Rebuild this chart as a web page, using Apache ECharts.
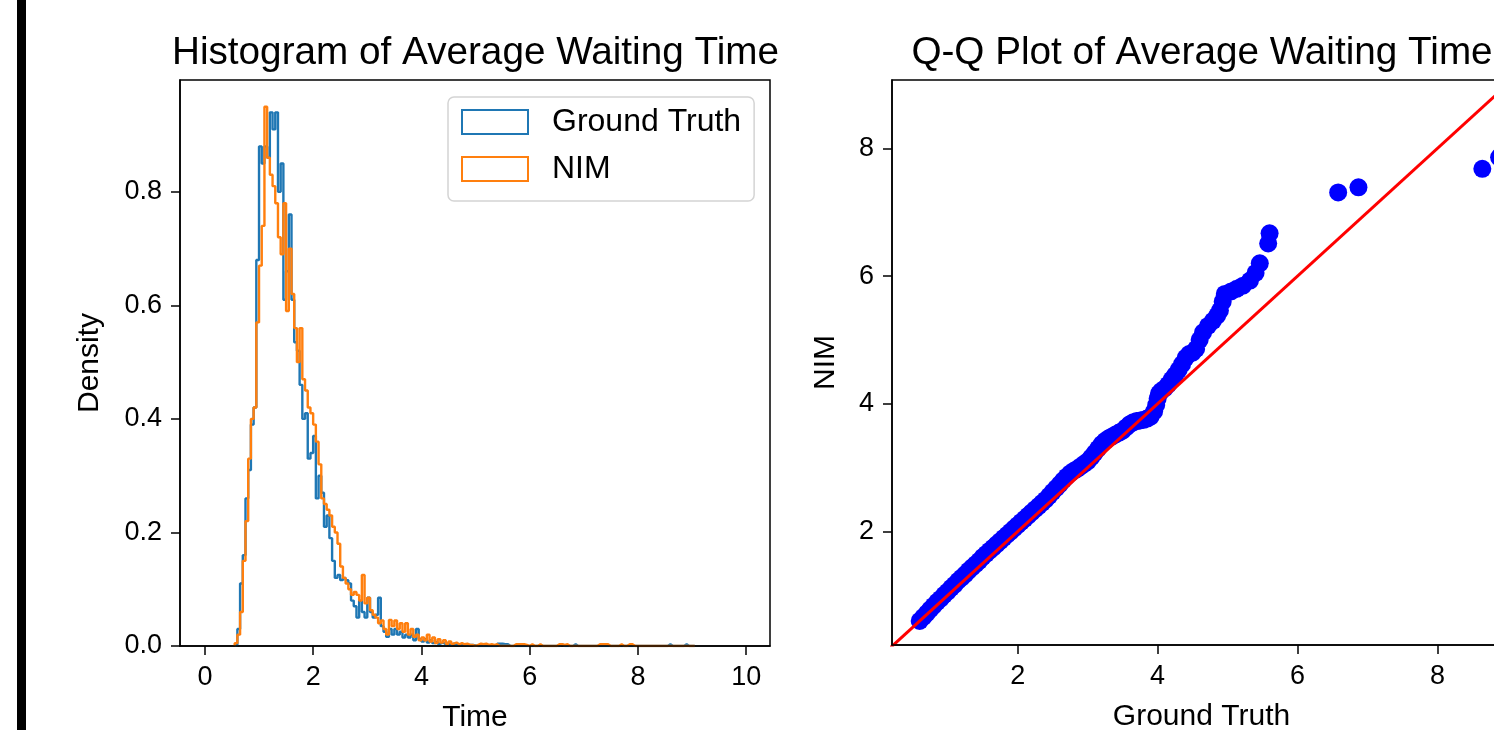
<!DOCTYPE html>
<html>
<head>
<meta charset="utf-8">
<title>Average Waiting Time</title>
<script src="https://cdn.jsdelivr.net/npm/echarts@6/dist/echarts.min.js"></script>
<style>
  html, body { margin: 0; padding: 0; background: #fff; }
  #chart { width: 1494px; height: 730px; }
</style>
</head>
<body>
<div id="chart"></div>
<script>
// histogram bins (density per bin), both series share the same bins
const binStart = 0.55;
const binWidth = 0.05;

const gtDensity = [
  0.002, 0.03, 0.11, 0.16, 0.26, 0.31, 0.39, 0.42, 0.68, 0.88,
  0.85, 0.88, 0.86, 0.94, 0.91, 0.94, 0.80, 0.85, 0.61, 0.66,
  0.76, 0.61, 0.535, 0.52, 0.46, 0.40, 0.41, 0.33, 0.34, 0.37,
  0.26, 0.30, 0.27, 0.21, 0.23, 0.19, 0.15, 0.12, 0.125, 0.116,
  0.12, 0.116, 0.11, 0.08, 0.07, 0.05, 0.08, 0.06, 0.05, 0.085,
  0.06, 0.05, 0.055, 0.085, 0.035, 0.025, 0.016, 0.03, 0.02, 0.03,
  0.02, 0.025, 0.015, 0.02, 0.015, 0.02, 0.01, 0.03, 0.012, 0.008,
  0.012, 0.006, 0.01, 0.005, 0.008, 0.004, 0.006, 0.003, 0.005, 0.002,
  0.004, 0.002, 0.003, 0.002, 0.003, 0.001, 0.002, 0.002, 0.001, 0,
  0, 0, 0, 0, 0, 0, 0, 0.004, 0.004, 0.003,
  0.003, 0, 0, 0, 0, 0, 0, 0, 0, 0,
  0, 0, 0, 0, 0, 0, 0, 0, 0, 0,
  0.003, 0, 0, 0, 0, 0.003, 0, 0, 0, 0,
  0, 0, 0, 0, 0, 0, 0, 0, 0, 0,
  0, 0, 0, 0, 0, 0, 0, 0, 0, 0,
  0, 0, 0, 0, 0, 0, 0, 0, 0, 0,
  0.003, 0, 0, 0, 0, 0, 0.003, 0, 0, 0
];

const nimDensity = [
  0.005, 0.02, 0.06, 0.15, 0.22, 0.33, 0.40, 0.42, 0.57, 0.67,
  0.74, 0.95, 0.86, 0.83, 0.81, 0.78, 0.72, 0.69, 0.78, 0.59,
  0.70, 0.62, 0.56, 0.50, 0.56, 0.47, 0.45, 0.42, 0.41, 0.39,
  0.36, 0.32, 0.26, 0.25, 0.24, 0.23, 0.21, 0.20, 0.18, 0.14,
  0.12, 0.11, 0.10, 0.09, 0.095, 0.09, 0.08, 0.125, 0.075, 0.085,
  0.063, 0.055, 0.05, 0.04, 0.045, 0.03, 0.02, 0.046, 0.035, 0.045,
  0.03, 0.04, 0.025, 0.04, 0.02, 0.03, 0.016, 0.02, 0.01, 0.015,
  0.01, 0.02, 0.008, 0.015, 0.005, 0.012, 0.006, 0.01, 0.004, 0.008,
  0.004, 0.006, 0.003, 0.005, 0.003, 0.004, 0.002, 0.002, 0, 0.002,
  0.004, 0.003, 0.004, 0.002, 0.003, 0.002, 0.003, 0, 0, 0,
  0, 0, 0, 0.003, 0.003, 0.003, 0.003, 0.002, 0, 0.003,
  0, 0, 0.003, 0, 0, 0, 0, 0, 0, 0.003,
  0.003, 0.002, 0.003, 0, 0, 0, 0, 0, 0, 0,
  0, 0, 0, 0, 0.003, 0.003, 0.003, 0.003, 0, 0,
  0, 0, 0.003, 0, 0, 0.003, 0.003, 0, 0, 0,
  0, 0, 0, 0, 0, 0, 0, 0, 0, 0,
  0, 0, 0, 0, 0, 0, 0, 0, 0, 0
];

// Q-Q plot quantiles
const qqGroundTruth = [
  0.60, 0.65, 0.70, 0.75, 0.80, 0.85, 0.90, 0.95, 1.00, 1.05,
  1.10, 1.15, 1.20, 1.25, 1.30, 1.35, 1.40, 1.45, 1.50, 1.55,
  1.60, 1.65, 1.70, 1.75, 1.80, 1.85, 1.90, 1.95, 2.00, 2.05,
  2.10, 2.15, 2.20, 2.25, 2.30, 2.35, 2.40, 2.45, 2.50, 2.55,
  2.60, 2.65, 2.70, 2.75, 2.80, 2.85, 2.90, 2.95, 3.00, 3.05,
  3.10, 3.15, 3.20, 3.25, 3.30, 3.35, 3.40, 3.45, 3.50, 3.55,
  3.60, 3.65, 3.70, 3.75, 3.80, 3.85, 3.90, 3.95, 3.98, 4.00,
  4.02, 4.05, 4.10, 4.15, 4.20, 4.25, 4.30, 4.35, 4.40, 4.45,
  4.50, 4.55, 4.60, 4.65, 4.72, 4.79, 4.85, 4.89, 4.93, 4.96,
  5.05, 5.13, 5.22, 5.32, 5.40, 5.46, 5.58, 5.60, 6.58, 6.87,
  8.64, 8.88
];
const qqNim = [
  0.60, 0.66, 0.72, 0.78, 0.84, 0.90, 0.95, 1.01, 1.06, 1.12,
  1.17, 1.23, 1.28, 1.33, 1.39, 1.44, 1.49, 1.54, 1.60, 1.65,
  1.70, 1.75, 1.80, 1.85, 1.90, 1.95, 2.00, 2.05, 2.10, 2.15,
  2.20, 2.25, 2.30, 2.35, 2.40, 2.45, 2.50, 2.56, 2.62, 2.68,
  2.74, 2.80, 2.86, 2.91, 2.95, 2.98, 3.02, 3.06, 3.10, 3.16,
  3.23, 3.30, 3.37, 3.42, 3.46, 3.49, 3.52, 3.55, 3.58, 3.63,
  3.68, 3.71, 3.73, 3.74, 3.75, 3.77, 3.80, 3.88, 3.98, 4.08,
  4.16, 4.20, 4.24, 4.30, 4.38, 4.45, 4.53, 4.62, 4.72, 4.78,
  4.80, 4.86, 5.00, 5.12, 5.22, 5.30, 5.38, 5.46, 5.60, 5.72,
  5.76, 5.80, 5.85, 5.93, 6.05, 6.20, 6.51, 6.67, 7.31, 7.39,
  7.68, 7.86
];
const refLine = [0, 10];

const histTicksX = [0, 2, 4, 6, 8, 10];
const histTicksY = [0, 0.2, 0.4, 0.6, 0.8];
const qqTicks = [2, 4, 6, 8];

const font = "Liberation Sans";

// step outline like matplotlib histtype="step"
function stepData(values) {
  const pts = [[binStart, 0]];
  values.forEach((v, i) => pts.push([binStart + i * binWidth, v]));
  const end = binStart + values.length * binWidth;
  pts.push([end, values[values.length - 1]]);
  pts.push([end, 0]);
  return pts;
}

function axis(gridIndex, min, max, ticks, fmt, name, nameGap) {
  return {
    type: "value",
    gridIndex: gridIndex,
    min: min,
    max: max,
    name: name,
    nameLocation: "middle",
    nameGap: nameGap,
    nameTextStyle: { fontFamily: font, fontSize: 30, color: "#000" },
    axisLine: { show: true, onZero: false, lineStyle: { color: "#000", width: 1.5 } },
    axisTick: { show: true, customValues: ticks, length: 9, lineStyle: { color: "#000", width: 1.5 } },
    axisLabel: { customValues: ticks, formatter: fmt, margin: 18, fontFamily: font, fontSize: 27, color: "#000" },
    splitLine: { show: false },
    z: 5
  };
}

const intLabel = (v) => String(Math.round(v));
const oneDecimal = (v) => v.toFixed(1);

const options = {
  animation: false,
  backgroundColor: "#fff",
  title: [
    {
      text: "Histogram of Average Waiting Time",
      left: 470.5, top: 29, textAlign: "center",
      textStyle: { fontFamily: font, fontSize: 38.7, fontWeight: "normal", color: "#000" }
    },
    {
      text: "Q-Q Plot of Average Waiting Time",
      left: 1197, top: 29, textAlign: "center",
      textStyle: { fontFamily: font, fontSize: 38.7, fontWeight: "normal", color: "#000" }
    }
  ],
  legend: {
    orient: "vertical",
    left: 448,
    top: 97,
    padding: [9, 13, 16, 13],
    itemGap: 15,
    itemWidth: 66,
    itemHeight: 24,
    icon: "rect",
    backgroundColor: "#fff",
    borderColor: "#d4d4d4",
    borderWidth: 1.5,
    borderRadius: 6,
    textStyle: { fontFamily: font, fontSize: 32, color: "#000", lineHeight: 30, padding: [0, 0, 0, 19] },
    data: [
      { name: "Ground Truth", itemStyle: { color: "rgba(0,0,0,0)", borderColor: "#1f77b4", borderWidth: 2 } },
      { name: "NIM", itemStyle: { color: "rgba(0,0,0,0)", borderColor: "#ff7f0e", borderWidth: 2 } }
    ]
  },
  graphic: [
    { type: "rect", left: 17, top: 0, shape: { width: 9, height: 730 }, style: { fill: "#000" } }
  ],
  grid: [
    {
      left: 180, top: 80, right: 724, bottom: 84, outerBoundsMode: "none",
      show: true, borderColor: "#000", borderWidth: 1.5, backgroundColor: "transparent"
    },
    {
      left: 892, top: 80, right: -17, bottom: 85, outerBoundsMode: "none",
      show: true, borderColor: "#000", borderWidth: 1.5, backgroundColor: "transparent"
    }
  ],
  xAxis: [
    axis(0, -0.46, 10.44, histTicksX, intLabel, "Time", 57),
    axis(1, 0.204, 9.05, qqTicks, intLabel, "Ground Truth", 57)
  ],
  yAxis: [
    axis(0, 0, 0.997, histTicksY, oneDecimal, "Density", 75),
    axis(1, 0.224, 9.07, qqTicks, intLabel, "NIM", 51)
  ],
  series: [
    {
      name: "Ground Truth",
      type: "line",
      xAxisIndex: 0, yAxisIndex: 0,
      step: "end",
      showSymbol: false,
      color: "#1f77b4",
      lineStyle: { color: "#1f77b4", width: 2.4 },
      data: stepData(gtDensity)
    },
    {
      name: "NIM",
      type: "line",
      xAxisIndex: 0, yAxisIndex: 0,
      step: "end",
      showSymbol: false,
      color: "#ff7f0e",
      lineStyle: { color: "#ff7f0e", width: 2.4 },
      data: stepData(nimDensity)
    },
    {
      name: "Quantiles",
      type: "scatter",
      xAxisIndex: 1, yAxisIndex: 1,
      symbol: "circle",
      symbolSize: 18,
      itemStyle: { color: "#0000ff", opacity: 1 },
      data: qqGroundTruth.map((g, i) => [g, qqNim[i]])
    },
    {
      name: "Reference",
      type: "line",
      xAxisIndex: 1, yAxisIndex: 1,
      showSymbol: false,
      lineStyle: { color: "#ff0000", width: 3 },
      data: refLine.map((v) => [v, v]),
      z: 4
    }
  ]
};

const chart = echarts.init(document.querySelector("#chart"));
chart.setOption(options);
</script>
</body>
</html>
